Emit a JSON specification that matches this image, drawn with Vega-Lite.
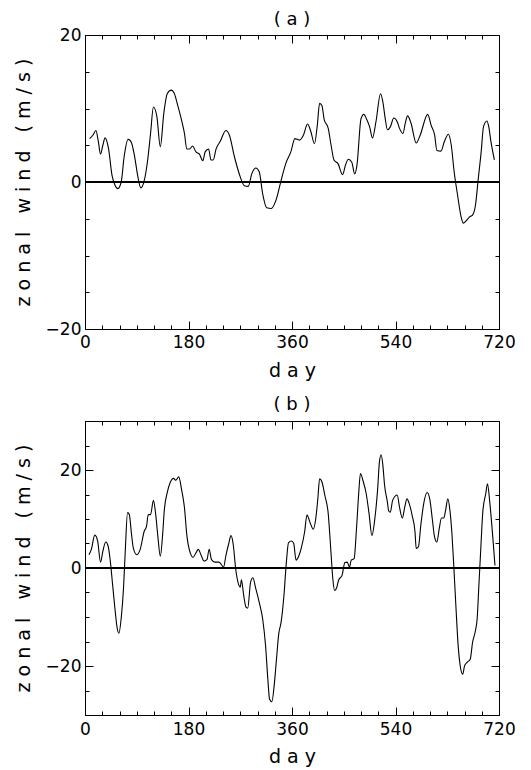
{
  "$schema": "https://vega.github.io/schema/vega-lite/v6.json",
  "padding": {"left": 13, "top": 10, "right": 5, "bottom": 2},
  "spacing": 14,
  "config": {
    "view": {"stroke": "black", "strokeWidth": 1},
    "font": "DejaVu Sans",
    "axis": {
      "domain": false,
      "grid": false,
      "tickColor": "black",
      "tickWidth": 1,
      "labelFont": "DejaVu Sans",
      "labelFontSize": 17,
      "labelColor": "black",
      "titleFont": "DejaVu Sans",
      "titleFontSize": 19,
      "titleFontWeight": "normal",
      "titleColor": "black"
    },
    "title": {"font": "DejaVu Sans", "fontSize": 18, "fontWeight": "normal", "color": "black"}
  },
  "datasets": {
    "a": [
      {"day": 8, "wind": 5.9}, {"day": 14, "wind": 6.4}, {"day": 19, "wind": 7.0}, {"day": 23, "wind": 5.6},
      {"day": 27, "wind": 3.8}, {"day": 31, "wind": 5.0}, {"day": 35, "wind": 6.0}, {"day": 41, "wind": 4.5},
      {"day": 47, "wind": 0.9}, {"day": 52, "wind": -0.4}, {"day": 57, "wind": -0.9}, {"day": 63, "wind": 0.0},
      {"day": 68, "wind": 3.4}, {"day": 75, "wind": 5.8}, {"day": 80, "wind": 5.5}, {"day": 86, "wind": 3.6},
      {"day": 92, "wind": 0.7}, {"day": 97, "wind": -0.8}, {"day": 103, "wind": 0.2}, {"day": 109, "wind": 3.0},
      {"day": 114, "wind": 6.6}, {"day": 119, "wind": 10.2}, {"day": 125, "wind": 8.9}, {"day": 131, "wind": 4.8},
      {"day": 137, "wind": 9.3}, {"day": 143, "wind": 12.0}, {"day": 150, "wind": 12.5}, {"day": 155, "wind": 12.1},
      {"day": 161, "wind": 10.5}, {"day": 168, "wind": 8.4}, {"day": 173, "wind": 6.6}, {"day": 177, "wind": 4.5},
      {"day": 182, "wind": 4.5}, {"day": 187, "wind": 4.9}, {"day": 193, "wind": 4.1}, {"day": 199, "wind": 3.8},
      {"day": 205, "wind": 2.9}, {"day": 209, "wind": 4.1}, {"day": 215, "wind": 4.5}, {"day": 219, "wind": 3.0},
      {"day": 223, "wind": 3.0}, {"day": 228, "wind": 4.5}, {"day": 235, "wind": 5.5}, {"day": 245, "wind": 7.0},
      {"day": 251, "wind": 6.4}, {"day": 260, "wind": 3.4}, {"day": 270, "wind": 0.7}, {"day": 277, "wind": -0.5},
      {"day": 284, "wind": -0.6}, {"day": 290, "wind": 1.1}, {"day": 297, "wind": 1.9}, {"day": 303, "wind": 1.4},
      {"day": 309, "wind": -1.6}, {"day": 316, "wind": -3.5}, {"day": 324, "wind": -3.6}, {"day": 332, "wind": -2.5},
      {"day": 341, "wind": 0.2}, {"day": 350, "wind": 2.7}, {"day": 358, "wind": 4.1}, {"day": 365, "wind": 5.9},
      {"day": 373, "wind": 5.7}, {"day": 380, "wind": 6.4}, {"day": 387, "wind": 7.9}, {"day": 393, "wind": 6.8},
      {"day": 399, "wind": 5.2}, {"day": 404, "wind": 7.7}, {"day": 408, "wind": 10.7}, {"day": 412, "wind": 10.4},
      {"day": 416, "wind": 8.5}, {"day": 423, "wind": 7.3}, {"day": 428, "wind": 5.0}, {"day": 433, "wind": 3.0},
      {"day": 440, "wind": 2.5}, {"day": 448, "wind": 1.0}, {"day": 453, "wind": 2.3}, {"day": 458, "wind": 3.1},
      {"day": 464, "wind": 2.7}, {"day": 469, "wind": 1.1}, {"day": 473, "wind": 2.3}, {"day": 480, "wind": 8.6},
      {"day": 485, "wind": 9.2}, {"day": 490, "wind": 8.5}, {"day": 495, "wind": 7.5}, {"day": 500, "wind": 6.0},
      {"day": 506, "wind": 8.2}, {"day": 514, "wind": 12.0}, {"day": 518, "wind": 10.9}, {"day": 522, "wind": 8.7},
      {"day": 526, "wind": 7.1}, {"day": 531, "wind": 7.5}, {"day": 537, "wind": 8.7}, {"day": 543, "wind": 8.2},
      {"day": 547, "wind": 7.3}, {"day": 553, "wind": 6.6}, {"day": 557, "wind": 8.0}, {"day": 561, "wind": 9.0},
      {"day": 567, "wind": 8.0}, {"day": 576, "wind": 5.3}, {"day": 583, "wind": 6.4}, {"day": 596, "wind": 9.2},
      {"day": 602, "wind": 7.7}, {"day": 608, "wind": 6.4}, {"day": 612, "wind": 4.3}, {"day": 619, "wind": 4.2},
      {"day": 625, "wind": 5.5}, {"day": 632, "wind": 6.5}, {"day": 637, "wind": 5.0}, {"day": 642, "wind": 1.4},
      {"day": 648, "wind": -1.8}, {"day": 654, "wind": -4.7}, {"day": 658, "wind": -5.6}, {"day": 664, "wind": -5.2},
      {"day": 668, "wind": -4.8}, {"day": 674, "wind": -4.5}, {"day": 679, "wind": -3.2}, {"day": 684, "wind": 0.5},
      {"day": 689, "wind": 4.1}, {"day": 693, "wind": 7.5}, {"day": 699, "wind": 8.3}, {"day": 702, "wind": 7.6},
      {"day": 706, "wind": 5.5}, {"day": 712, "wind": 3.0}
    ],
    "b": [
      {"day": 7, "wind": 2.7}, {"day": 11, "wind": 3.8}, {"day": 17, "wind": 6.7}, {"day": 22, "wind": 5.5},
      {"day": 27, "wind": 1.2}, {"day": 31, "wind": 3.4}, {"day": 36, "wind": 5.3}, {"day": 40, "wind": 4.6},
      {"day": 44, "wind": 1.4}, {"day": 48, "wind": -3.4}, {"day": 52, "wind": -8.2}, {"day": 56, "wind": -12.3},
      {"day": 59, "wind": -13.3}, {"day": 63, "wind": -10.2}, {"day": 67, "wind": -4.1}, {"day": 70, "wind": 3.4},
      {"day": 74, "wind": 11.3}, {"day": 77, "wind": 10.9}, {"day": 81, "wind": 6.8}, {"day": 84, "wind": 4.1},
      {"day": 90, "wind": 2.7}, {"day": 96, "wind": 3.8}, {"day": 103, "wind": 7.5}, {"day": 107, "wind": 8.5},
      {"day": 110, "wind": 10.9}, {"day": 114, "wind": 10.9}, {"day": 119, "wind": 13.8}, {"day": 123, "wind": 10.9},
      {"day": 127, "wind": 6.1}, {"day": 131, "wind": 2.4}, {"day": 135, "wind": 6.8}, {"day": 138, "wind": 11.9},
      {"day": 143, "wind": 15.4}, {"day": 148, "wind": 17.4}, {"day": 154, "wind": 18.3}, {"day": 158, "wind": 17.9},
      {"day": 163, "wind": 18.6}, {"day": 168, "wind": 16.0}, {"day": 173, "wind": 12.3}, {"day": 177, "wind": 6.8},
      {"day": 183, "wind": 3.1}, {"day": 188, "wind": 2.2}, {"day": 193, "wind": 3.1}, {"day": 197, "wind": 3.8},
      {"day": 202, "wind": 2.6}, {"day": 207, "wind": 1.4}, {"day": 212, "wind": 1.7}, {"day": 216, "wind": 3.8},
      {"day": 220, "wind": 1.7}, {"day": 226, "wind": 1.2}, {"day": 233, "wind": 1.2}, {"day": 241, "wind": 0.2},
      {"day": 245, "wind": 2.5}, {"day": 250, "wind": 5.0}, {"day": 254, "wind": 6.6}, {"day": 258, "wind": 4.6},
      {"day": 262, "wind": -0.1}, {"day": 266, "wind": -2.9}, {"day": 270, "wind": -3.9}, {"day": 272, "wind": -2.4},
      {"day": 276, "wind": -5.6}, {"day": 280, "wind": -8.0}, {"day": 283, "wind": -8.2}, {"day": 288, "wind": -2.9},
      {"day": 292, "wind": -2.0}, {"day": 297, "wind": -4.2}, {"day": 303, "wind": -7.0}, {"day": 309, "wind": -10.4},
      {"day": 314, "wind": -15.8}, {"day": 318, "wind": -22.7}, {"day": 321, "wind": -26.8}, {"day": 325, "wind": -27.3},
      {"day": 329, "wind": -24.0}, {"day": 333, "wind": -18.6}, {"day": 337, "wind": -13.4}, {"day": 341, "wind": -11.1},
      {"day": 346, "wind": -5.6}, {"day": 350, "wind": 0.9}, {"day": 354, "wind": 5.2}, {"day": 359, "wind": 5.5},
      {"day": 363, "wind": 5.0}, {"day": 367, "wind": 1.6}, {"day": 372, "wind": 2.5}, {"day": 376, "wind": 4.0},
      {"day": 382, "wind": 7.4}, {"day": 386, "wind": 10.8}, {"day": 392, "wind": 9.1}, {"day": 397, "wind": 7.9},
      {"day": 401, "wind": 9.8}, {"day": 405, "wind": 14.2}, {"day": 408, "wind": 18.2}, {"day": 412, "wind": 17.6},
      {"day": 417, "wind": 14.9}, {"day": 423, "wind": 11.1}, {"day": 427, "wind": 4.6}, {"day": 431, "wind": -2.2},
      {"day": 434, "wind": -4.6}, {"day": 438, "wind": -3.9}, {"day": 441, "wind": -2.5}, {"day": 447, "wind": -1.5},
      {"day": 452, "wind": 1.1}, {"day": 456, "wind": 1.2}, {"day": 460, "wind": 0.2}, {"day": 463, "wind": 1.6},
      {"day": 468, "wind": 1.9}, {"day": 472, "wind": 7.7}, {"day": 476, "wind": 15.2}, {"day": 479, "wind": 19.3},
      {"day": 484, "wind": 17.6}, {"day": 489, "wind": 15.2}, {"day": 494, "wind": 11.1}, {"day": 499, "wind": 6.6},
      {"day": 504, "wind": 10.0}, {"day": 509, "wind": 16.2}, {"day": 512, "wind": 21.6}, {"day": 515, "wind": 23.1},
      {"day": 518, "wind": 21.0}, {"day": 521, "wind": 16.9}, {"day": 526, "wind": 13.4}, {"day": 528, "wind": 11.7},
      {"day": 531, "wind": 11.4}, {"day": 535, "wind": 13.8}, {"day": 543, "wind": 14.9}, {"day": 547, "wind": 12.4},
      {"day": 552, "wind": 10.2}, {"day": 556, "wind": 12.4}, {"day": 560, "wind": 14.1}, {"day": 564, "wind": 13.1},
      {"day": 569, "wind": 10.7}, {"day": 574, "wind": 7.3}, {"day": 576, "wind": 4.0}, {"day": 580, "wind": 4.4},
      {"day": 584, "wind": 8.7}, {"day": 589, "wind": 13.1}, {"day": 595, "wind": 15.4}, {"day": 600, "wind": 13.8},
      {"day": 604, "wind": 10.0}, {"day": 608, "wind": 6.3}, {"day": 612, "wind": 5.3}, {"day": 616, "wind": 8.0},
      {"day": 620, "wind": 10.2}, {"day": 624, "wind": 10.2}, {"day": 627, "wind": 11.7}, {"day": 631, "wind": 14.1},
      {"day": 635, "wind": 11.4}, {"day": 638, "wind": 7.3}, {"day": 641, "wind": 1.2}, {"day": 645, "wind": -7.7},
      {"day": 649, "wind": -15.9}, {"day": 653, "wind": -20.3}, {"day": 657, "wind": -21.7}, {"day": 660, "wind": -20.0},
      {"day": 665, "wind": -19.2}, {"day": 670, "wind": -18.6}, {"day": 674, "wind": -15.2}, {"day": 679, "wind": -12.8},
      {"day": 682, "wind": -10.4}, {"day": 685, "wind": -3.6}, {"day": 688, "wind": 3.2}, {"day": 692, "wind": 11.7},
      {"day": 697, "wind": 15.2}, {"day": 700, "wind": 17.2}, {"day": 704, "wind": 13.4}, {"day": 709, "wind": 6.6},
      {"day": 713, "wind": 0.5}
    ]
  },
  "vconcat": [
    {
      "width": 414,
      "height": 294,
      "title": {"text": "( a )", "offset": -3},
      "data": {"name": "a"},
      "layer": [
        {
          "mark": {"type": "line", "color": "black", "strokeWidth": 1.1, "interpolate": "monotone"},
          "encoding": {
            "x": {
              "field": "day", "type": "quantitative",
              "scale": {"domain": [0, 720], "nice": false, "zero": false},
              "axis": {
                "orient": "bottom",
                "values": [0, 30, 60, 90, 120, 150, 180, 210, 240, 270, 300, 330, 360, 390, 420, 450, 480, 510, 540, 570, 600, 630, 660, 690, 720],
                "labelExpr": "datum.value % 180 === 0 ? datum.label : ''",
                "tickSize": {"condition": {"test": "datum.value % 180 === 0", "value": -8}, "value": -4},
                "labelPadding": 13,
                "labelFlush": false,
                "title": "d a y",
                "titlePadding": 11
              }
            },
            "y": {
              "field": "wind", "type": "quantitative",
              "scale": {"domain": [-20, 20], "nice": false, "zero": false},
              "axis": {
                "orient": "left",
                "values": [-20, -15, -10, -5, 0, 5, 10, 15, 20],
                "labelExpr": "datum.value % 20 === 0 ? datum.label : ''",
                "tickSize": {"condition": {"test": "datum.value % 20 === 0", "value": -8}, "value": -4},
                "labelPadding": 12,
                "labelFlush": false,
                "title": "z o n a l \u00a0 w i n d \u00a0 ( m / s )",
                "titlePadding": 12
              }
            }
          }
        },
        {
          "mark": {"type": "rule", "color": "black", "strokeWidth": 0.8},
          "encoding": {"y": {"datum": 0, "type": "quantitative", "axis": null}}
        },
        {
          "mark": {"type": "line", "opacity": 0},
          "encoding": {
            "x": {
              "field": "day", "type": "quantitative",
              "axis": {
                "orient": "top",
                "values": [0, 30, 60, 90, 120, 150, 180, 210, 240, 270, 300, 330, 360, 390, 420, 450, 480, 510, 540, 570, 600, 630, 660, 690, 720],
                "labels": false,
                "minExtent": 0,
                "maxExtent": 0,
                "tickSize": {"condition": {"test": "datum.value % 180 === 0", "value": -8}, "value": -4},
                "title": null
              }
            },
            "y": {
              "field": "wind", "type": "quantitative",
              "axis": {
                "orient": "right",
                "values": [-20, -15, -10, -5, 0, 5, 10, 15, 20],
                "labels": false,
                "minExtent": 0,
                "maxExtent": 0,
                "tickSize": {"condition": {"test": "datum.value % 20 === 0", "value": -8}, "value": -4},
                "title": null
              }
            }
          }
        }
      ],
      "resolve": {"axis": {"x": "independent", "y": "independent"}}
    },
    {
      "width": 414,
      "height": 294,
      "title": {"text": "( b )", "offset": 7},
      "data": {"name": "b"},
      "layer": [
        {
          "mark": {"type": "line", "color": "black", "strokeWidth": 1.1, "interpolate": "monotone"},
          "encoding": {
            "x": {
              "field": "day", "type": "quantitative",
              "scale": {"domain": [0, 720], "nice": false, "zero": false},
              "axis": {
                "orient": "bottom",
                "values": [0, 30, 60, 90, 120, 150, 180, 210, 240, 270, 300, 330, 360, 390, 420, 450, 480, 510, 540, 570, 600, 630, 660, 690, 720],
                "labelExpr": "datum.value % 180 === 0 ? datum.label : ''",
                "tickSize": {"condition": {"test": "datum.value % 180 === 0", "value": -8}, "value": -4},
                "labelPadding": 14,
                "labelFlush": false,
                "title": "d a y",
                "titlePadding": 10
              }
            },
            "y": {
              "field": "wind", "type": "quantitative",
              "scale": {"domain": [-30, 30], "nice": false, "zero": false},
              "axis": {
                "orient": "left",
                "values": [-30, -25, -20, -15, -10, -5, 0, 5, 10, 15, 20, 25, 30],
                "labelExpr": "datum.value % 20 === 0 ? datum.label : ''",
                "tickSize": {"condition": {"test": "datum.value % 20 === 0", "value": -8}, "value": -4},
                "labelPadding": 12,
                "labelFlush": false,
                "title": "z o n a l \u00a0 w i n d \u00a0 ( m / s )",
                "titlePadding": 12
              }
            }
          }
        },
        {
          "mark": {"type": "rule", "color": "black", "strokeWidth": 0.8},
          "encoding": {"y": {"datum": 0, "type": "quantitative", "axis": null}}
        },
        {
          "mark": {"type": "line", "opacity": 0},
          "encoding": {
            "x": {
              "field": "day", "type": "quantitative",
              "axis": {
                "orient": "top",
                "values": [0, 30, 60, 90, 120, 150, 180, 210, 240, 270, 300, 330, 360, 390, 420, 450, 480, 510, 540, 570, 600, 630, 660, 690, 720],
                "labels": false,
                "minExtent": 0,
                "maxExtent": 0,
                "tickSize": {"condition": {"test": "datum.value % 180 === 0", "value": -8}, "value": -4},
                "title": null
              }
            },
            "y": {
              "field": "wind", "type": "quantitative",
              "axis": {
                "orient": "right",
                "values": [-30, -25, -20, -15, -10, -5, 0, 5, 10, 15, 20, 25, 30],
                "labels": false,
                "minExtent": 0,
                "maxExtent": 0,
                "tickSize": {"condition": {"test": "datum.value % 20 === 0", "value": -8}, "value": -4},
                "title": null
              }
            }
          }
        }
      ],
      "resolve": {"axis": {"x": "independent", "y": "independent"}}
    }
  ]
}
